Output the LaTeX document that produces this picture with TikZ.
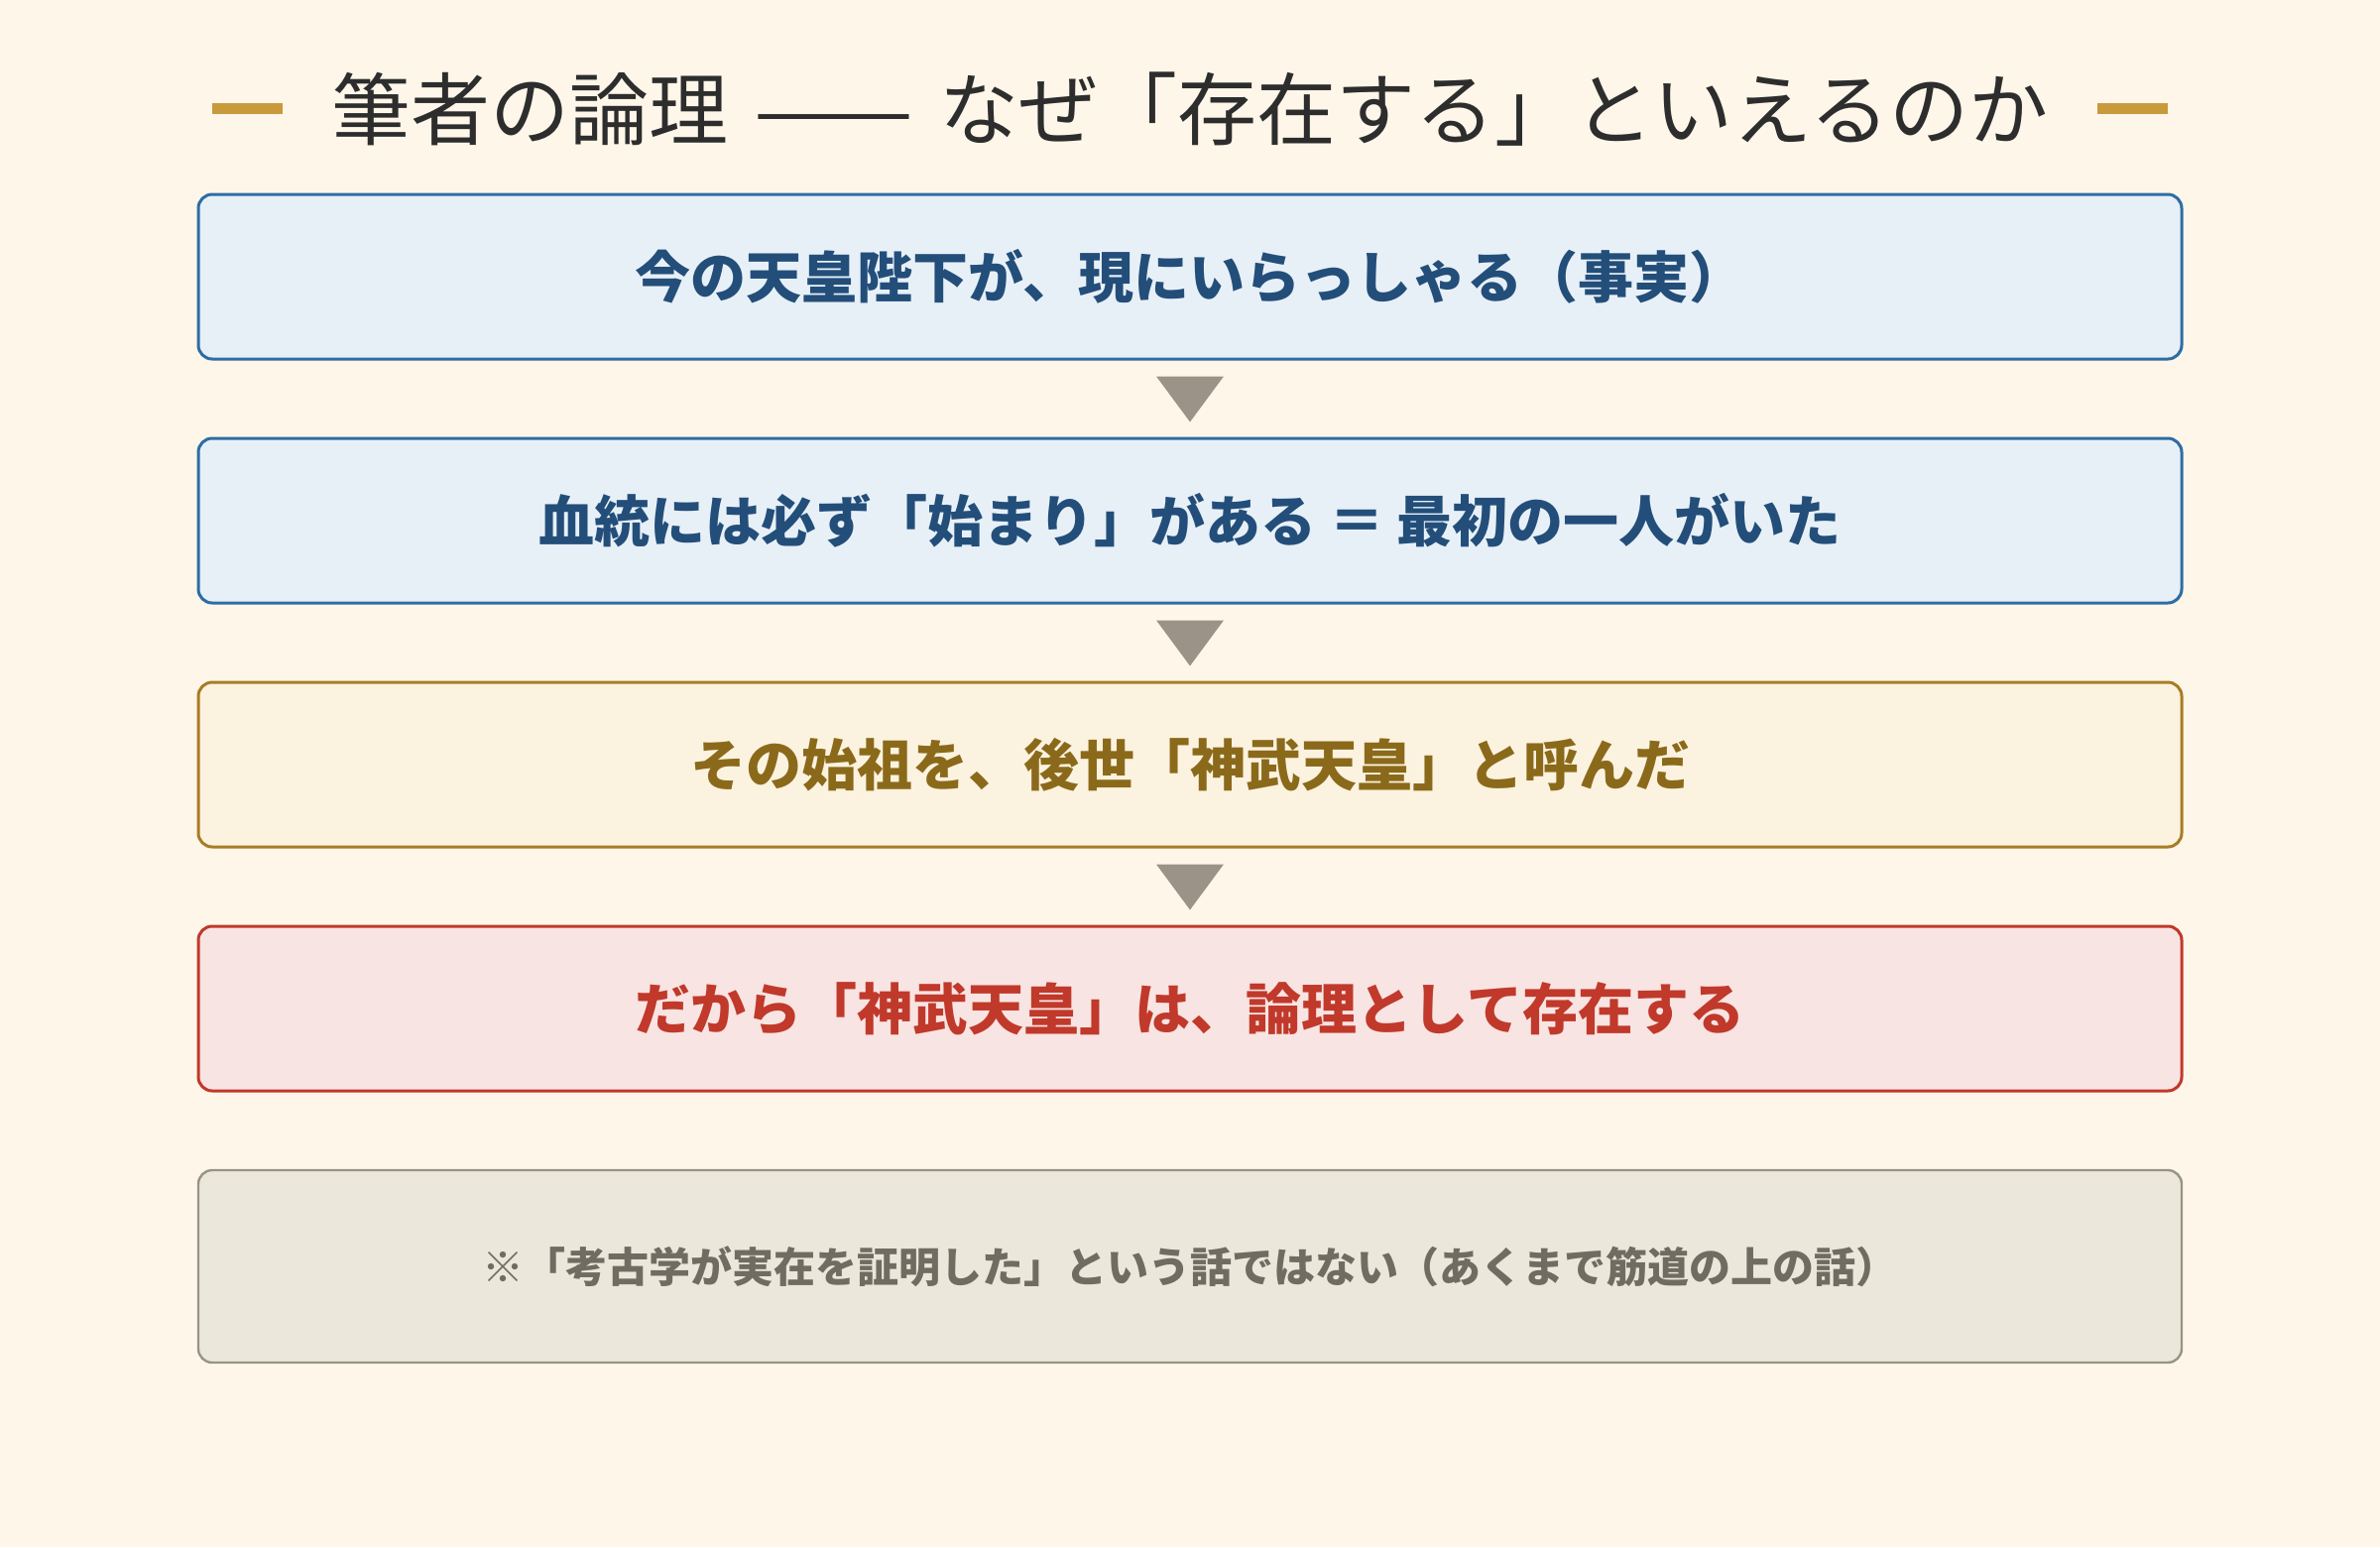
\documentclass[tikz,border=0pt]{standalone}
\usepackage{fontspec}
\usetikzlibrary{calc}
\newfontfamily\jpfont{Noto Sans CJK JP}
\definecolor{bgc}{RGB}{253,246,233}
\definecolor{titlec}{RGB}{45,45,45}
\definecolor{goldc}{RGB}{200,154,60}
\definecolor{bluefill}{RGB}{232,240,247}
\definecolor{blueline}{RGB}{46,109,164}
\definecolor{bluetext}{RGB}{35,78,122}
\definecolor{ochrefill}{RGB}{252,242,224}
\definecolor{ochreline}{RGB}{168,124,36}
\definecolor{ochretext}{RGB}{138,106,26}
\definecolor{redfill}{RGB}{248,228,226}
\definecolor{redline}{RGB}{192,57,43}
\definecolor{redtext}{RGB}{192,57,43}
\definecolor{grayfill}{RGB}{235,231,218}
\definecolor{grayline}{RGB}{152,147,135}
\definecolor{graytext}{RGB}{112,108,98}
\definecolor{tric}{RGB}{155,147,135}
\begin{document}
\begin{tikzpicture}[x=0.5pt,y=-0.5pt,
  box/.style={draw, line width=1.5pt, rounded corners=7pt, minimum width=1000pt,
    minimum height=83pt, inner sep=0pt,
    font=\jpfont\bfseries\fontsize{28pt}{34pt}\selectfont},
  bluebox/.style={box, draw=blueline, fill=bluefill, text=bluetext},
  ochrebox/.style={box, draw=ochreline, fill=ochrefill, text=ochretext},
  redbox/.style={box, draw=redline, fill=redfill, text=redtext},
  notebox/.style={box, draw=grayline, fill=grayfill, text=graytext, line width=1.2pt,
    minimum height=97pt, font=\jpfont\bfseries\fontsize{21pt}{26pt}\selectfont},
  tri/.style={fill=tric},
  bar/.style={fill=goldc}]
\fill[bgc] (0,0) rectangle (2400,1560);
\useasboundingbox (0,0) rectangle (2400,1560);
% title
\fill[bar] (214,104) rectangle (285,115);
\fill[bar] (2115,104) rectangle (2186,115);
\node[inner sep=0pt, text=titlec, font=\jpfont\fontsize{40pt}{48pt}\selectfont] (title) at (1200,110)
  {筆者の論理\hspace{4pt} \scalebox{1.2}[1]{——} \hspace{4pt}なぜ「存在する」といえるのか};
% boxes
\node[bluebox] (b1) at (1200,279) {今の天皇陛下が、現にいらっしゃる（事実）};
\node[bluebox] (b2) at (1200,525) {血統には必ず「始まり」がある ＝ 最初の一人がいた};
\node[ochrebox] (b3) at (1200,771) {その始祖を、後世「神武天皇」と呼んだ};
\node[redbox] (b4) at (1200,1017) {だから「神武天皇」は、論理として存在する};
\node[notebox] (b5) at (1200,1277) {※「考古学が実在を証明した」という話ではない（あくまで筋道の上の話）};
% arrows
\foreach \a in {b1,b2,b3}{
  \fill[tri] ($(\a.south)+(-34,16)$) -- ($(\a.south)+(34,16)$) -- ($(\a.south)+(0,62)$) -- cycle;
}
\end{tikzpicture}
\end{document}
